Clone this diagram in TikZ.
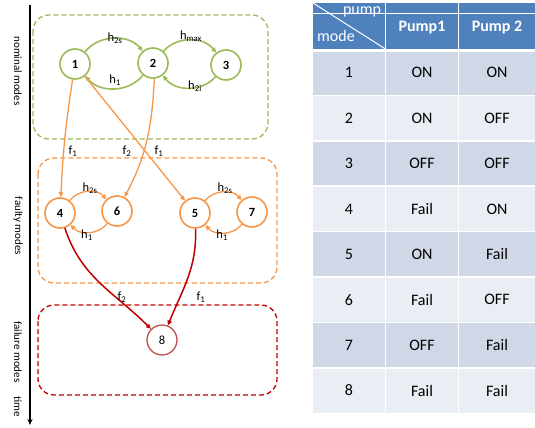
\documentclass[tikz,border=0pt]{standalone}
\usepackage{fontspec}
\setmainfont{Carlito}
\usetikzlibrary{arrows.meta}
\definecolor{gr}{RGB}{155,187,89}
\definecolor{og}{RGB}{247,150,70}
\definecolor{rd}{RGB}{192,0,0}
\definecolor{rd2}{RGB}{192,80,77}
\definecolor{hb}{RGB}{79,129,189}
\definecolor{rowa}{RGB}{208,216,232}
\definecolor{rowb}{RGB}{233,237,244}
\tikzset{
  modebox/.style={rounded corners=16pt, line width=1.3pt, dash pattern=on 5pt off 3pt},
  st/.style={circle, minimum size=30pt, inner sep=0pt, fill=white, font=\bfseries\fontsize{12.5}{14}\selectfont},
  gst/.style={st, draw=gr, line width=1.6pt},
  ost/.style={st, draw=og, line width=1.6pt},
  rst/.style={st, draw=rd2, line width=1.3pt},
  tip/.style={-{Triangle[length=5pt,width=4.5pt]}},
  garr/.style={tip, draw=gr, line width=1.6pt},
  oarr/.style={tip, draw=og, line width=1.3pt},
  rarr/.style={tip, draw=rd, line width=1.5pt},
  lbl/.style={font=\fontsize{12.5}{14}\selectfont, inner sep=1pt},
  side/.style={rotate=-90, font=\fontsize{11}{13}\selectfont},
  cell/.style={font=\fontsize{16}{18}\selectfont},
  grid/.style={draw=white, line width=1.5pt}
}
\begin{document}
\begin{tikzpicture}[x=1pt,y=1pt]
\useasboundingbox (0,0) rectangle (535,-428);

% time axis
\coordinate (ta) at (30,-5);
\coordinate (tb) at (30,-425);
\draw[line width=1.6pt, -{Stealth[length=6pt,width=5pt]}] (ta) -- (tb);
\node[side] (lnom) at (18,-71) {nominal modes};
\node[side] (lfau) at (18,-226) {faulty modes};
\node[side] (lfai) at (18,-352) {failure modes};
\node[side] (ltime) at (18,-407) {time};

% mode boxes
\draw[modebox, draw=gr] (33,-15) rectangle (268,-139);
\draw[modebox, draw=og] (38,-158) rectangle (277,-283);
\draw[modebox, draw=rd] (38,-305) rectangle (277,-395);

% nominal states
\node[gst] (n1) at (75,-64) {1};
\node[gst] (n2) at (153,-63) {2};
\node[gst] (n3) at (226,-65) {3};
% faulty states
\node[ost] (n4) at (60,-213) {4};
\node[ost] (n6) at (117,-211) {6};
\node[ost] (n5) at (195,-213) {5};
\node[ost] (n7) at (252,-212) {7};
% failure state
\node[rst, font=\fontsize{12.5}{14}\selectfont] (n8) at (162,-340) {8};

% nominal transitions
\draw[garr] (n1) to[bend left=50] (n2);
\draw[garr] (n2) to[bend left=50] (n1);
\draw[garr] (n2) to[bend left=50] (n3);
\draw[garr] (n3) to[bend left=50] (n2);
\node[lbl] (l12) at (115,-38) {h\textsubscript{2s}};
\node[lbl] (l21) at (115,-80) {h\textsubscript{1}};
\node[lbl] (l23) at (191,-36) {h\textsubscript{max}};
\node[lbl] (l32) at (195,-86) {h\textsubscript{2i}};

% faulty transitions
\draw[oarr] (n4) to[bend left=50] (n6);
\draw[oarr] (n6) to[bend left=50] (n4);
\draw[oarr] (n5) to[bend left=50] (n7);
\draw[oarr] (n7) to[bend left=50] (n5);
\node[lbl] (l46) at (90,-188) {h\textsubscript{2s}};
\node[lbl] (l64) at (87,-235) {h\textsubscript{1}};
\node[lbl] (l57) at (225,-188) {h\textsubscript{2s}};
\node[lbl] (l75) at (222,-235) {h\textsubscript{1}};

% nominal -> faulty
\draw[oarr] (n1) to[bend right=3] (n4);
\draw[oarr] (n1) -- (n5);
\draw[oarr] (n2.-85) to[out=-93,in=62] (n6);
\node[lbl] (f14) at (73,-151) {f\textsubscript{1}};
\node[lbl] (f15) at (127,-151) {f\textsubscript{2}};
\node[lbl] (f26) at (159,-151) {f\textsubscript{1}};

% faulty -> failure
\draw[rarr] (n4) to[out=-72,in=135] (n8);
\draw[rarr] (n5) to[out=-88,in=68] (n8);
\node[lbl] (f48) at (122,-297) {f\textsubscript{2}};
\node[lbl] (f58) at (201,-297) {f\textsubscript{1}};

% table header
\fill[hb] (313,-3) rectangle (535,-50);
\draw[white, line width=0.8pt] (313,-13) -- (535,-13);
\draw[white, line width=1pt] (313,-3) -- (385.5,-49);
\node[cell, text=white] (hpump) at (362,-12) {pump};
\node[cell, text=white] (hmode) at (336,-36) {mode};
\node[cell, text=white, font=\bfseries\fontsize{16}{18}\selectfont] (hp1) at (422,-28) {Pump1};
\node[cell, text=white, font=\bfseries\fontsize{16}{18}\selectfont] (hp2) at (497,-28) {Pump 2};

% table rows
\foreach \i/\a/\b in {1/ON/ON,2/ON/OFF,3/OFF/OFF,4/Fail/ON,5/ON/Fail,6/Fail/OFF,7/OFF/Fail,8/Fail/Fail}{
  \pgfmathsetmacro{\yt}{-50-45.4*(\i-1)}
  \pgfmathsetmacro{\yb}{\yt-45.4}
  \pgfmathsetmacro{\ym}{\yt-22.7}
  \ifodd\i
    \fill[rowa] (313,\yt) rectangle (535,\yb);
  \else
    \fill[rowb] (313,\yt) rectangle (535,\yb);
  \fi
  \node[cell] (m\i) at (349,\ym) {\i};
  \node[cell] (p\i) at (422,\ym) {\a};
  \node[cell] (q\i) at (497,\ym) {\b};
}
% grid
\draw[grid] (385.5,-3) -- (385.5,-413.2);
\draw[grid] (458.5,-3) -- (458.5,-413.2);
\draw[white, line width=3pt] (313,-50.5) -- (535,-50.5);
\foreach \i in {2,...,8}{
  \pgfmathsetmacro{\yy}{-50-45.4*(\i-1)}
  \draw[grid] (313,\yy) -- (535,\yy);
}
\end{tikzpicture}
\end{document}
